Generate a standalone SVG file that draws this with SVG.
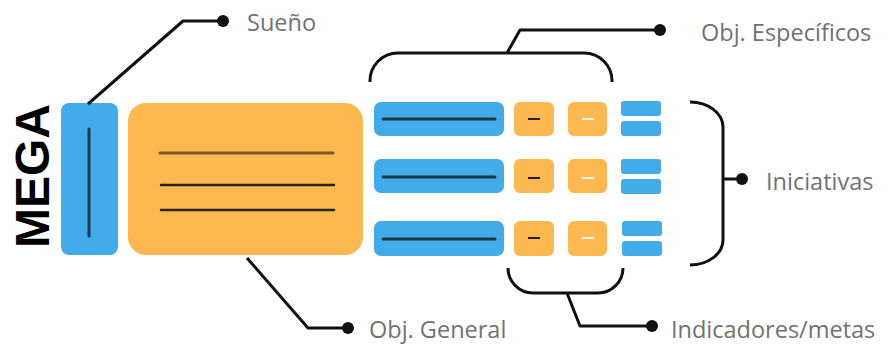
<svg xmlns="http://www.w3.org/2000/svg" width="891" height="347" viewBox="0 0 891 347">
  <style>
    .blue { fill: #42abe9; }
    .orange { fill: #fdb94f; }
    .rule { stroke: #1f3a4d; stroke-width: 3; stroke-linecap: round; }
    .rule-dark { stroke: #2a2418; stroke-width: 2.5; stroke-linecap: round; }
    .rule-brown { stroke: #7b5a26; stroke-width: 3; stroke-linecap: round; }
    .dash-dark { stroke: #222; stroke-width: 2; }
    .dash-light { stroke: #f3f3f3; stroke-width: 2; }
    .conn { fill: none; stroke: #111; stroke-width: 3; stroke-linejoin: round; }
    .dot { fill: #111; }
    .label { font-family: "Open Sans", "Noto Sans", sans-serif; font-size: 23.5px; fill: #727272; }
    .title { font-family: "Liberation Sans", Arial, sans-serif; font-weight: bold; font-size: 48px; fill: #000; }
  </style>

  <!-- vertical heading -->
  <g id="mega">
    <text class="title" transform="translate(49,176) rotate(-90)" text-anchor="middle">MEGA</text>
  </g>

  <!-- dream column -->
  <g id="sueno-box">
    <rect class="blue" x="61" y="103" width="57" height="152" rx="8"/>
    <line class="rule" x1="89" y1="129" x2="89" y2="236"/>
  </g>

  <!-- general objective -->
  <g id="obj-general-box">
    <rect class="orange" x="128" y="103" width="235" height="152" rx="18"/>
    <line class="rule-brown" x1="160" y1="153" x2="333" y2="153"/>
    <line class="rule-dark" x1="161" y1="185" x2="334" y2="185"/>
    <line class="rule-dark" x1="161" y1="210" x2="334" y2="210"/>
  </g>

  <!-- specific objective rows -->
  <g id="row-1">
    <rect class="blue" x="374" y="102" width="130" height="34" rx="7"/>
    <line class="rule" x1="383" y1="119" x2="495" y2="119"/>
    <rect class="orange" x="514" y="102" width="40" height="34" rx="6"/>
    <line class="dash-dark" x1="528" y1="119" x2="540" y2="119"/>
    <rect class="orange" x="568" y="102" width="39" height="34" rx="6"/>
    <line class="dash-light" x1="582" y1="119" x2="594" y2="119"/>
    <rect class="blue" x="621" y="101" width="40" height="15" rx="3"/>
    <rect class="blue" x="621" y="121" width="40" height="15" rx="3"/>
  </g>
  <g id="row-2">
    <rect class="blue" x="374" y="159" width="130" height="34" rx="7"/>
    <line class="rule" x1="383" y1="177" x2="495" y2="177"/>
    <rect class="orange" x="514" y="159" width="40" height="34" rx="6"/>
    <line class="dash-dark" x1="528" y1="178" x2="540" y2="178"/>
    <rect class="orange" x="568" y="159" width="39" height="34" rx="6"/>
    <line class="dash-light" x1="582" y1="178" x2="594" y2="178"/>
    <rect class="blue" x="621" y="159" width="40" height="15" rx="3"/>
    <rect class="blue" x="621" y="179" width="40" height="15" rx="3"/>
  </g>
  <g id="row-3">
    <rect class="blue" x="374" y="221" width="130" height="35" rx="7"/>
    <line class="rule" x1="383" y1="239" x2="495" y2="239"/>
    <rect class="orange" x="514" y="221" width="40" height="35" rx="6"/>
    <line class="dash-dark" x1="528" y1="238" x2="540" y2="238"/>
    <rect class="orange" x="568" y="221" width="39" height="35" rx="6"/>
    <line class="dash-light" x1="582" y1="238" x2="594" y2="238"/>
    <rect class="blue" x="622" y="221" width="40" height="15" rx="3"/>
    <rect class="blue" x="622" y="241" width="40" height="15" rx="3"/>
  </g>

  <!-- leader lines and brackets -->
  <g id="connectors">
    <polyline class="conn" points="88,104 183,21 223,21"/>
    <circle class="dot" cx="223" cy="21" r="6"/>

    <path class="conn" d="M370,82 A28,28 0 0 1 398,53 L584,53 A28,28 0 0 1 612,82"/>
    <polyline class="conn" points="507,53 520,30 660,30"/>
    <circle class="dot" cx="660" cy="30" r="6"/>

    <path class="conn" d="M690,102 A33,25 0 0 1 723,127 L723,240 A33,25 0 0 1 690,265"/>
    <line class="conn" x1="723" y1="179" x2="742" y2="179"/>
    <circle class="dot" cx="742" cy="179" r="6"/>

    <path class="conn" d="M508,268 A25,25 0 0 0 533,293 L598,293 A25,25 0 0 0 623,268"/>
    <polyline class="conn" points="567,293 580,326 652,326"/>
    <circle class="dot" cx="652" cy="326" r="6"/>

    <polyline class="conn" points="247,258 308,328 348,328"/>
    <circle class="dot" cx="348" cy="328" r="6"/>
  </g>

  <!-- labels -->
  <g id="labels">
    <text class="label" x="247" y="31">Sueño</text>
    <text class="label" x="701" y="41">Obj. Específicos</text>
    <text class="label" x="766" y="190">Iniciativas</text>
    <text class="label" x="671" y="338">Indicadores/metas</text>
    <text class="label" x="369" y="338">Obj. General</text>
  </g>
</svg>
